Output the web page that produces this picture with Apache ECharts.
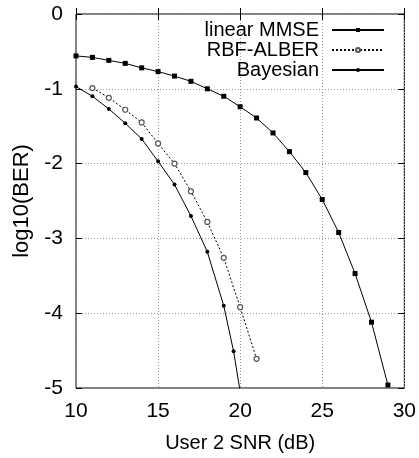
<!DOCTYPE html>
<html><head><meta charset="utf-8">
<script src="https://cdn.jsdelivr.net/npm/echarts@6/dist/echarts.min.js"></script>
<style>html,body{margin:0;padding:0;background:#fff}#c{width:419px;height:458px}</style>
</head><body><div id="c"></div>
<script>
const seriesNames = ['linear MMSE', 'RBF-ALBER', 'Bayesian'];
const mmseX = [10,11,12,13,14,15,16,17,18,19,20,21,22,23,24,25,26,27,28,29];
const mmseY = [-0.56,-0.58,-0.62,-0.66,-0.72,-0.77,-0.83,-0.90,-1.00,-1.10,-1.24,-1.39,-1.59,-1.84,-2.12,-2.48,-2.92,-3.47,-4.12,-4.96];
const rbfX = [11,12,13,14,15,16,17,18,19,20,21];
const rbfY = [-0.99,-1.12,-1.28,-1.45,-1.73,-2.00,-2.37,-2.78,-3.26,-3.92,-4.61];
const bayX = [10,11,12,13,14,15,16,17,18,19,19.6,20];
const bayY = [-0.97,-1.10,-1.27,-1.46,-1.67,-1.97,-2.28,-2.70,-3.18,-3.90,-4.51,-5.05];
const xTicks = [10,15,20,25,30];
const yTicks = [0,-1,-2,-3,-4,-5];

const FONT = '"Liberation Sans Narrow", "Arial Narrow", sans-serif';
const FONTW = '"Liberation Sans", Arial, sans-serif';
const pair = (xs, ys) => xs.map((x,i)=>[x, ys[i]]);
const chart = echarts.init(document.getElementById('c'));
const tickStyle = {inside:true, length:6, lineStyle:{color:'#000'}};
chart.setOption({
  animation:false,
  grid:{left:76, right:12, top:14, bottom:69, show:true, borderColor:'#000', borderWidth:1},
  legend:{
    orient:'vertical', right:34, top:20, align:'right', padding:0,
    itemWidth:52, itemHeight:5, itemGap:0,
    textStyle:{fontFamily:FONT, fontSize:20, lineHeight:20, color:'#000', padding:[0,8,0,0]},
    data:seriesNames
  },
  xAxis:[{
    type:'value', min:xTicks[0], max:xTicks[xTicks.length-1], interval:5,
    name:'User 2 SNR (dB)', nameLocation:'middle', nameGap:45,
    nameTextStyle:{fontFamily:FONT, fontSize:20, color:'#000'},
    axisLine:{show:false}, axisTick:tickStyle,
    axisLabel:{fontFamily:FONT, fontSize:21, color:'#000', margin:13},
    splitLine:{show:true, lineStyle:{type:[1,2], color:'#999'}}
  },{
    type:'value', position:'top', min:10, max:30, interval:5,
    axisLine:{show:false}, axisTick:tickStyle, axisLabel:{show:false}, splitLine:{show:false}
  }],
  yAxis:[{
    type:'value', min:yTicks[yTicks.length-1], max:yTicks[0], interval:1,
    name:'log10(BER)', nameLocation:'middle', nameGap:38,
    nameTextStyle:{fontFamily:FONTW, fontSize:22, color:'#000'},
    axisLine:{show:false}, axisTick:tickStyle,
    axisLabel:{fontFamily:FONT, fontSize:21, color:'#000', margin:13},
    splitLine:{show:true, lineStyle:{type:[1,2], color:'#999'}}
  },{
    type:'value', position:'right', min:-5, max:0, interval:1,
    axisLine:{show:false}, axisTick:tickStyle, axisLabel:{show:false}, splitLine:{show:false}
  }],
  series:[
    {name:seriesNames[0], type:'line', data:pair(mmseX,mmseY), symbol:'rect', symbolSize:5,
     lineStyle:{color:'#000', width:1}, itemStyle:{color:'#000'}, clip:true},
    {name:seriesNames[1], type:'line', data:pair(rbfX,rbfY), symbol:'circle', symbolSize:5,
     lineStyle:{color:'#000', width:1, type:[2,2]}, itemStyle:{color:'#fff', borderColor:'#555', borderWidth:1.2}, clip:true},
    {name:seriesNames[2], type:'line', data:pair(bayX,bayY), symbol:'circle', symbolSize:4,
     lineStyle:{color:'#000', width:1}, itemStyle:{color:'#000'}, clip:true}
  ]
});
</script></body></html>
